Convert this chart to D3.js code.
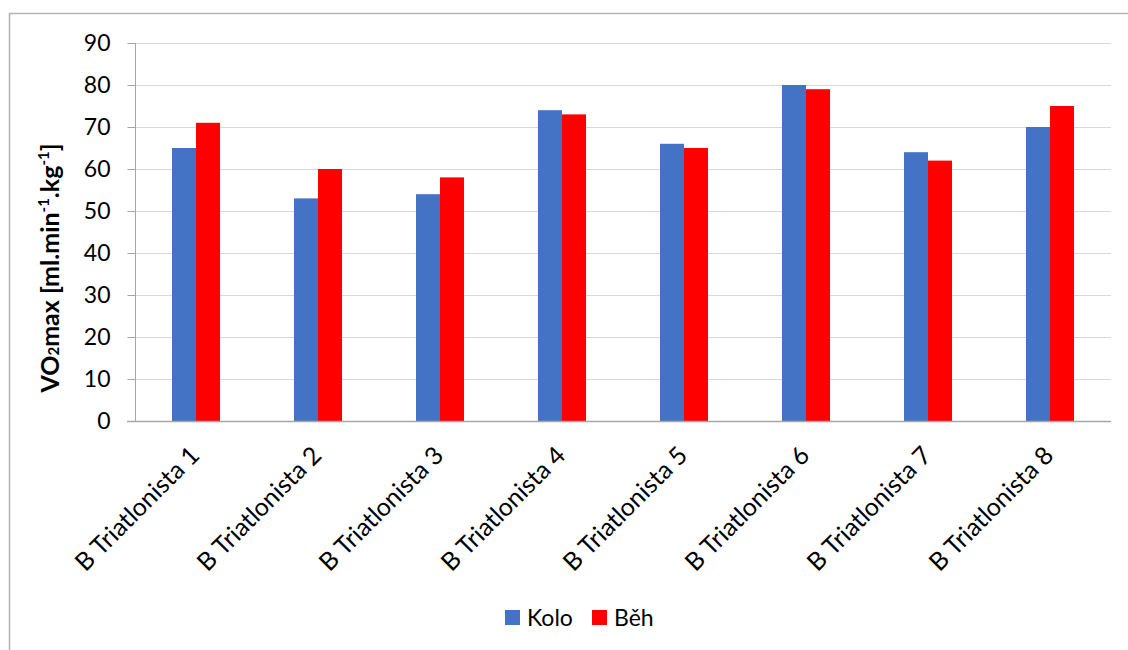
<!DOCTYPE html>
<html>
<head>
<meta charset="utf-8">
<script src="https://cdn.jsdelivr.net/npm/d3@7"></script>
<style>
  html, body { margin: 0; padding: 0; background: #fff; }
  svg { display: block; font-family: Lato, "Noto Sans", sans-serif; }
</style>
</head>
<body>
<svg id="chart" width="1128" height="650"></svg>
<script>
const categories = ["B Triatlonista 1","B Triatlonista 2","B Triatlonista 3","B Triatlonista 4",
                    "B Triatlonista 5","B Triatlonista 6","B Triatlonista 7","B Triatlonista 8"];
const seriesNames = ["Kolo", "Běh"];
const koloValues = [65, 53, 54, 74, 66, 80, 64, 70];
const behValues  = [71, 60, 58, 73, 65, 79, 62, 75];
const yTicks = [0,10,20,30,40,50,60,70,80,90];
const colors = ["#4472C4", "#FF0000"];

const svg = d3.select("#chart");

// outer frame
svg.append("rect").attr("x", 9.5).attr("y", 13.5).attr("width", 1300).attr("height", 800)
  .attr("fill", "none").attr("stroke", "#b3b3b3").attr("stroke-width", 1.5);

const pLeft = 135, pRight = 1111, pTop = 43, pBottom = 421;

const y = d3.scaleLinear().domain([0, 90]).range([pBottom, pTop]);
const x0 = d3.scaleBand().domain(categories).range([pLeft, pRight]).padding(0);
const x1 = d3.scaleBand().domain(seriesNames).range([0, x0.bandwidth()]).paddingInner(0).paddingOuter(1.54);

// gridlines
svg.append("g").selectAll("line").data(yTicks.filter(d => d > 0)).join("line")
  .attr("x1", pLeft).attr("x2", pRight)
  .attr("y1", d => Math.round(y(d)) + 0.5).attr("y2", d => Math.round(y(d)) + 0.5)
  .attr("stroke", "#d9d9d9").attr("stroke-width", 1);

// bars
const rows = categories.map((c, i) => ({cat: c, vals: [koloValues[i], behValues[i]]}));
const groups = svg.append("g").selectAll("g").data(rows).join("g")
  .attr("transform", d => `translate(${x0(d.cat)},0)`);
groups.selectAll("rect").data(d => d.vals.map((v, j) => ({key: seriesNames[j], v, j}))).join("rect")
  .attr("x", d => x1(d.key)).attr("width", x1.bandwidth())
  .attr("y", d => y(d.v)).attr("height", d => y(0) - y(d.v))
  .attr("fill", d => colors[d.j]);

// y axis
const yAxis = d3.axisLeft(y).tickValues(yTicks).tickSize(8).tickPadding(17);
const ya = svg.append("g").attr("transform", `translate(${pLeft + 0.5},0)`).call(yAxis);
ya.select(".domain").attr("stroke", "#a6a6a6").attr("d", `M0,${pTop}V${pBottom}`);
ya.selectAll(".tick line").attr("stroke", "#a6a6a6");
ya.selectAll(".tick text").attr("font-size", 23).attr("fill", "#000").attr("font-family", "Lato, sans-serif");

// x axis baseline
svg.append("line").attr("x1", pLeft - 8).attr("x2", pRight)
  .attr("y1", pBottom + 0.5).attr("y2", pBottom + 0.5).attr("stroke", "#a6a6a6").attr("stroke-width", 1.3);

// x labels
const xa = svg.append("g");
xa.selectAll("text").data(categories).join("text")
  .attr("transform", d => `translate(${x0(d) + x0.bandwidth() / 2 + 5},${pBottom + 36}) rotate(-45)`)
  .attr("text-anchor", "end")
  .attr("font-size", 25).attr("fill", "#000")
  .text(d => d);

// y label
const yl = svg.append("text")
  .attr("transform", `translate(59,268) rotate(-90)`)
  .attr("text-anchor", "middle").attr("font-size", 25).attr("font-weight", "bold").attr("fill", "#000");
yl.append("tspan").text("VO");
yl.append("tspan").attr("font-size", 15).text("2");
yl.append("tspan").text("max [ml.min");
yl.append("tspan").attr("font-size", 15).attr("dy", -10).text("-1");
yl.append("tspan").attr("dy", 10).text(".kg");
yl.append("tspan").attr("font-size", 15).attr("dy", -10).text("-1");
yl.append("tspan").attr("dy", 10).text("]");

// legend
const legend = svg.append("g");
const legendItems = [{name: seriesNames[0], x: 505}, {name: seriesNames[1], x: 592}];
legendItems.forEach((it, i) => {
  legend.append("rect").attr("x", it.x).attr("y", 610).attr("width", 15).attr("height", 15).attr("fill", colors[i]);
  legend.append("text").attr("x", it.x + 22).attr("y", 626).attr("font-size", 23).attr("fill", "#000").text(it.name);
});
</script>
</body>
</html>
